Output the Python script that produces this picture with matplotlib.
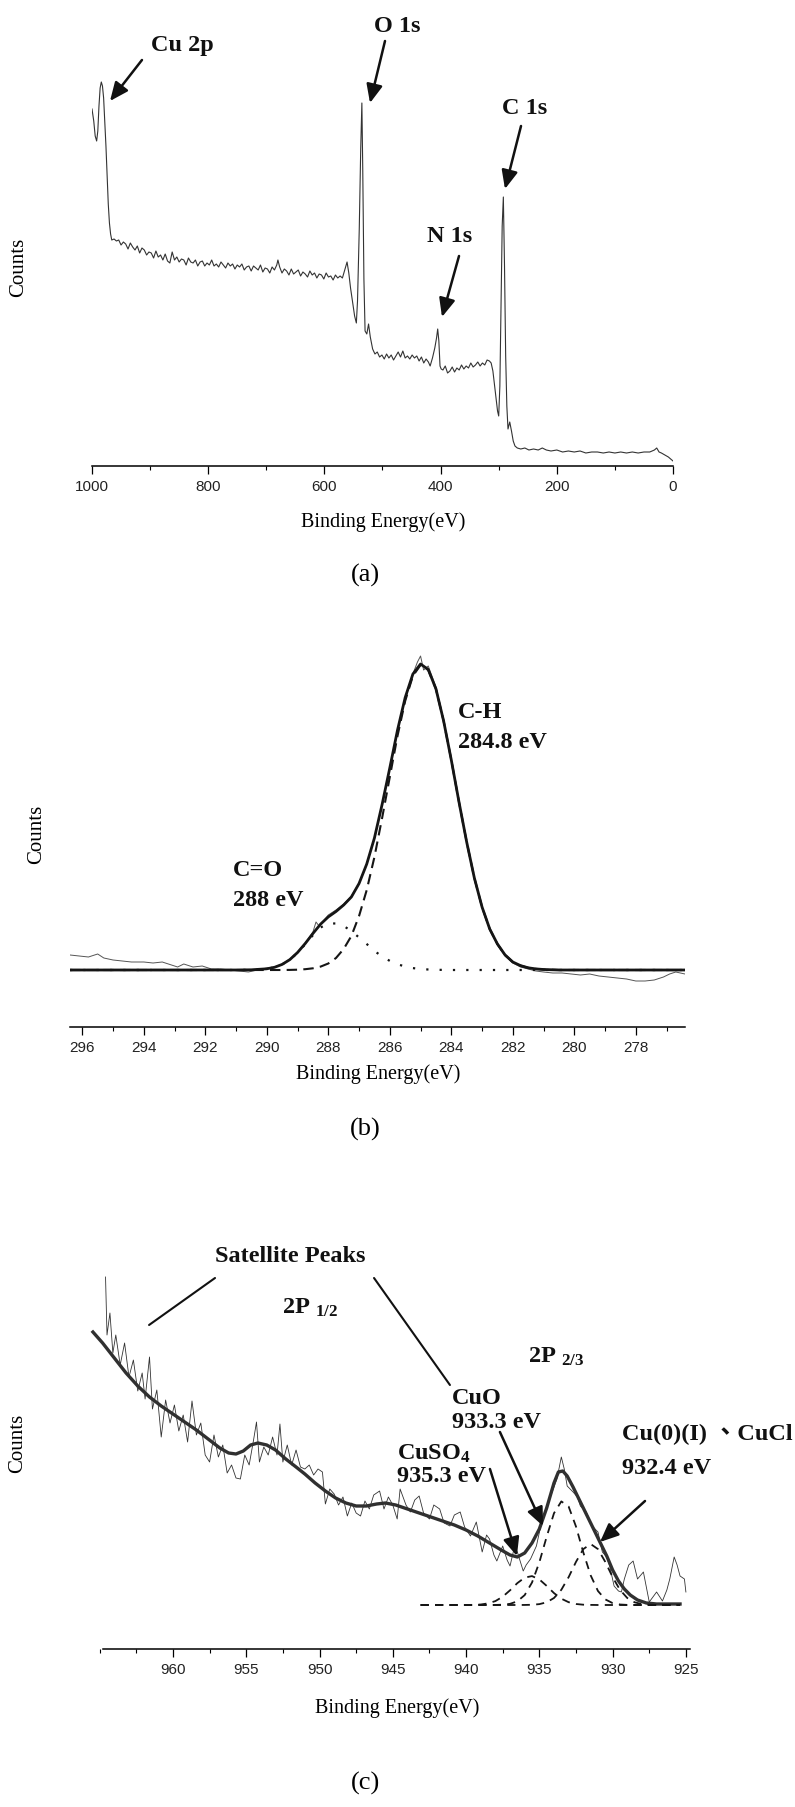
import matplotlib
matplotlib.use('Agg')
import matplotlib.pyplot as plt
from matplotlib.ticker import MultipleLocator

plt.rcParams['font.family'] = ['Liberation Serif', 'Noto Sans CJK TC', 'DejaVu Sans']
plt.rcParams['mathtext.fontset'] = 'custom'
plt.rcParams['mathtext.rm'] = 'Liberation Serif:bold'
plt.rcParams['mathtext.it'] = 'Liberation Serif:bold:italic'
plt.rcParams['mathtext.bf'] = 'Liberation Serif:bold'

# ---------------- (a) survey spectrum ----------------
survey_be = [1000, 997, 994.5, 992, 990, 988, 986, 984, 982, 980, 978.5, 976, 974, 972, 970, 968, 966,
             962, 958, 954, 950, 946, 942, 938, 934, 930, 926,
             922, 918, 914, 910, 906, 902, 898, 894, 890, 886,
             882, 878, 874, 870, 866, 862, 858, 854, 850, 846,
             842, 838, 834, 830, 826, 822, 818, 814, 810, 806,
             802, 798, 794, 790, 786, 782, 778, 774, 770, 766,
             762, 758, 754, 750, 746, 742, 738, 734, 730, 726,
             722, 718, 714, 710, 706, 702, 698, 694, 690, 686,
             682, 680, 677,
             673, 669, 665, 661, 657, 653, 649, 645, 641, 637,
             633, 629, 625, 621, 617, 613, 609, 605, 601, 597,
             593, 589, 585, 581, 577, 573, 569,
             565, 561, 558, 555, 551, 548, 545, 543, 540, 537.5, 535.5, 534, 532, 530, 527, 524, 521, 517,
             513, 509, 505, 501, 497, 493, 489, 485, 481, 477, 473,
             469, 465, 461, 457, 453, 449, 445, 441, 437, 433, 429,
             425, 421, 418, 414, 410, 407, 405, 403, 401, 399, 396,
             392, 388, 384, 380, 376, 372, 368, 364, 360, 356,
             352, 348, 344, 340, 336, 332, 328, 324, 320, 316,
             313, 310, 306, 302, 300, 298, 296, 294, 292, 290, 288, 286, 284,
             281, 278, 275, 272, 268, 262, 255, 248, 240, 232, 225, 218, 210,
             200, 190, 180, 170, 160, 150, 140, 130, 120, 110, 100, 90, 80, 70, 60, 50, 40,
             32, 28, 24, 20, 14, 8, 4, 0]
survey_counts = [357, 345, 330, 325, 335, 360, 378, 384, 380, 368, 350, 320, 290, 262, 243, 232, 226,
                 227, 225, 226, 221, 224, 222, 217, 223, 219, 216,
                 220, 213, 218, 216, 211, 214, 213, 208, 215, 209,
                 211, 206, 212, 205, 203, 214, 206, 209, 204, 207,
                 206, 201, 208, 204, 203, 206, 200, 204, 205, 200,
                 203, 201, 206, 200, 202, 199, 204, 201, 198, 203,
                 200, 202, 197, 201, 199, 202, 196, 199, 200, 195,
                 200, 198, 196, 201, 194, 198, 197, 193, 199, 196,
                 201, 206, 199,
                 193, 197, 195, 191, 197, 192, 194, 196, 190, 194,
                 192, 189, 195, 191, 193, 188, 192, 191, 187, 193,
                 189, 190, 186, 191, 188, 190, 188,
                 196, 204, 193, 178, 162, 150, 143, 165, 237, 317, 363, 297, 187, 135, 132, 142, 129, 117,
                 112, 114, 109, 111, 107, 112, 108, 111, 106, 110, 114,
                 109, 115, 108, 110, 107, 111, 108, 110, 105, 109, 103,
                 107, 104, 100, 108, 118, 128, 137, 125, 100, 97, 96,
                 100, 93, 95, 99, 94, 98, 96, 101, 97, 100,
                 98, 103, 99, 101, 104, 100, 103, 101, 106, 105,
                 103, 95, 75, 55, 50, 80, 160, 240, 269, 200, 110, 60, 37,
                 44, 35, 25, 20, 18, 17, 18, 16, 17, 16, 18, 16, 15,
                 16, 14, 15, 14, 15, 13, 14, 14, 13, 14, 13, 14, 13, 14, 13, 14, 14,
                 16, 18, 14, 13, 11, 9, 7, 5]
survey_ticks = [1000, 800, 600, 400, 200, 0]
survey_ticklabels = ['1000', '800', '600', '400', '200', '0']

# ---------------- (b) C 1s ----------------
c1s_be = [296.4, 295.0, 294.0, 293.0, 292.0, 291.0, 290.5, 290.0,
          289.75, 289.5, 289.25, 289.0, 288.75, 288.5, 288.25, 288.0,
          287.75, 287.5, 287.25, 287.0, 286.75, 286.5, 286.25, 286.0,
          285.75, 285.5, 285.25, 285.0, 284.75, 284.5, 284.25, 284.0,
          283.75, 283.5, 283.25, 283.0, 282.75, 282.5, 282.25, 282.0,
          281.75, 281.5, 281.25, 281.0, 280.5, 280.0, 279.0, 278.0, 277.0, 276.4]
c1s_ch = [0, 0, 0, 0, 0, 0, 0, 0,
          0, 0, 0.1, 0.3, 0.8, 1.7, 3.4, 6.5,
          12, 21, 34, 54, 80, 113, 152, 193,
          234, 269, 294, 305, 300, 281, 249, 210,
          168, 128, 92, 63, 41, 26, 15, 8,
          4.4, 2.2, 1.1, 0.5, 0, 0, 0, 0, 0, 0]
c1s_co = [0, 0, 0, 0, 0, 0, 0.2, 1.2,
          2.7, 5.6, 10.3, 17.2, 25.7, 34.8, 42.5, 46.6,
          46.5, 44, 39, 32.5, 26, 19, 13.6, 9.1,
          5.8, 3.4, 1.9, 1.0, 0.5, 0.2, 0.1, 0,
          0, 0, 0, 0, 0, 0, 0, 0,
          0, 0, 0, 0, 0, 0, 0, 0, 0, 0]
c1s_fit = [0, 0, 0, 0, 0, 0, 0.2, 1.2,
           2.7, 5.6, 10.4, 17.5, 26.5, 36.5, 45.9, 53.1,
           58.5, 65, 73, 86.5, 106, 132, 165.6, 202.1,
           239.8, 272.4, 295.9, 306, 300.5, 281.2, 249.1, 210,
           168, 128, 92, 63, 41, 26, 15, 8,
           4.4, 2.2, 1.1, 0.5, 0, 0, 0, 0, 0, 0]
c1s_raw_be = [296.4, 296.1, 295.8, 295.5, 295.3, 295.0, 294.7, 294.4, 294.0, 293.7, 293.4, 293.1,
              292.9, 292.7, 292.4, 292.1, 291.8, 291.5, 291.2, 290.9, 290.6, 290.3, 290.0, 289.75,
              289.5, 289.25, 289.0, 288.75, 288.5, 288.4, 288.3, 288.0, 287.75, 287.5, 287.25, 287.0,
              286.75, 286.5, 286.25, 286.0, 285.75, 285.5, 285.25, 285.1, 285.0, 284.9, 284.75, 284.5,
              284.25, 284.0, 283.75, 283.5, 283.25, 283.0, 282.75, 282.5, 282.25, 282.0, 281.75, 281.5,
              281.25, 281.0, 280.7, 280.4, 280.1, 279.8, 279.5, 279.2, 278.9, 278.6, 278.3, 278.0,
              277.7, 277.4, 277.1, 276.9, 276.7, 276.4]
c1s_raw = [15, 14, 13, 16, 12, 10, 9, 8, 8, 7, 8, 5,
           3, 6, 3, 4, 1, 1, 0, -1, -2, 0, 2, 3,
           6, 11, 18, 27, 38, 48, 44, 55, 60, 66, 74, 87,
           106, 131, 165, 201, 238, 271, 296, 308, 314, 300, 304, 283,
           250, 211, 169, 128, 91, 62, 40, 25, 14, 7, 3, 1,
           -1, -2, -3, -3, -4, -5, -4, -6, -7, -8, -9, -11,
           -11, -10, -7, -4, -2, -4]
c1s_ticks = [296, 294, 292, 290, 288, 286, 284, 282, 280, 278]
c1s_ticklabels = ['296', '294', '292', '290', '288', '286', '284', '282', '280', '278']

# ---------------- (c) Cu 2p ----------------
cu_env_be = [965.46, 964.8, 964.0, 963.2, 962.4, 961.6, 960.8, 960.0, 959.2, 958.4, 957.6, 956.8,
             956.2, 955.7, 955.2, 954.7, 954.2, 953.6, 953.0, 952.3, 951.6, 951.0, 950.3, 949.6,
             948.9, 948.2, 947.5, 946.8, 946.1, 945.5, 944.8, 944.0, 943.2, 942.4, 941.6, 940.8,
             940.0, 939.2, 938.4, 937.6, 937.0, 936.5, 936.0, 935.5, 935.0, 934.5, 934.0, 933.7,
             933.4, 933.1, 932.7, 932.2, 931.8, 931.4, 930.9, 930.4, 930.0, 929.6, 929.2, 928.8,
             928.3, 927.7, 927.0, 926.2, 925.4]
cu_env = [273, 262, 247, 232, 219, 208, 199, 191, 183, 175, 166, 157,
          152, 151, 154, 160, 162, 160, 155, 146, 138, 131, 122, 114,
          107, 102, 99, 99, 101, 102, 100, 96, 92, 88, 84, 80,
          75, 69, 62, 55, 50, 48, 52, 62, 76, 97, 122, 133,
          134, 129, 118, 103, 91, 79, 64, 49, 35, 24, 16, 10,
          5, 2, 1, 1, 1]
cu_raw_be = [964.6, 964.5, 964.3, 964.1, 963.9, 963.6, 963.3, 963.0, 962.7, 962.4, 962.1, 961.9,
             961.6, 961.4, 961.1, 960.8, 960.5, 960.2, 959.9, 959.6, 959.3, 959.0, 958.7, 958.4,
             958.1, 957.8, 957.5, 957.2, 956.9, 956.6, 956.3, 956.0, 955.7, 955.4, 955.1, 954.8,
             954.5, 954.3, 954.1, 953.8, 953.5, 953.2, 952.9, 952.7, 952.5, 952.2, 951.9, 951.6,
             951.3, 951.0, 950.7, 950.4, 950.1, 949.8, 949.6, 949.3, 949.0, 948.7, 948.4, 948.1,
             947.8, 947.5, 947.2, 946.9, 946.6, 946.3, 945.9, 945.6, 945.3, 945.0, 944.7, 944.5,
             944.1, 943.8, 943.5, 943.2, 942.9, 942.5, 942.2, 941.8, 941.5, 941.1, 940.8, 940.4,
             940.1, 939.7, 939.3, 938.9, 938.6, 938.4, 938.1, 937.9, 937.5, 937.2, 937.0, 936.7,
             936.5, 936.1, 935.9, 935.6, 935.2, 934.8, 934.3, 933.8, 933.5, 933.3, 933.1, 932.7,
             932.4, 932.2, 931.8, 931.4, 931.0, 930.7, 930.4, 930.2, 929.9, 929.6, 929.4, 929.2,
             928.9, 928.6, 928.3, 927.9, 927.5, 927.2, 927.0, 926.6, 926.3, 926.1, 925.8, 925.6,
             925.4, 925.1, 925.0]
cu_raw = [328, 270, 292, 252, 270, 240, 262, 228, 245, 214, 232, 206,
          248, 196, 215, 168, 205, 182, 200, 174, 190, 163, 204, 170,
          182, 150, 143, 170, 148, 160, 132, 140, 127, 126, 150, 140,
          165, 183, 143, 158, 150, 168, 150, 181, 143, 160, 140, 155,
          138, 136, 140, 130, 136, 133, 101, 116, 111, 100, 108, 89,
          102, 92, 89, 104, 96, 110, 114, 96, 108, 100, 86, 116,
          100, 93, 105, 109, 92, 86, 100, 96, 82, 79, 90, 93,
          78, 69, 83, 53, 70, 66, 50, 44, 59, 45, 39, 58,
          53, 34, 40, 46, 59, 86, 106, 126, 148, 136, 119, 113,
          108, 99, 93, 79, 73, 53, 48, 39, 19, 14, 13, 26,
          40, 44, 26, 33, 3, 9, 13, 4, 15, 26, 48, 40,
          29, 26, 13]
cu_fit_be = [943.1, 942.0, 941.0, 940.0, 939.5, 939.0, 938.5, 938.0, 937.5, 937.0, 936.5, 936.0,
             935.5, 935.0, 934.5, 934.0, 933.5, 933.0, 932.5, 932.0, 931.5, 931.0, 930.5, 930.0,
             929.5, 929.0, 928.5, 928.0, 927.5, 927.0, 926.0, 925.4]
cu_cuso4 = [0, 0, 0, 0.03, 0.15, 0.5, 1.6, 3.9, 8.3, 14.7, 21.9, 27.4,
            28.9, 25.6, 19.1, 11.9, 6.3, 2.8, 1.0, 0.3, 0.1, 0, 0, 0,
            0, 0, 0, 0, 0, 0, 0, 0]
cu_cuo = [0, 0, 0, 0, 0, 0, 0, 0.07, 0.3, 1.15, 3.7, 9.9,
          22.5, 42.7, 68.3, 91.8, 103.6, 98.4, 78.5, 52.6, 29.7, 14.0, 5.6, 1.9,
          0.5, 0.1, 0, 0, 0, 0, 0, 0]
cu_cu0 = [0, 0, 0, 0, 0, 0, 0, 0, 0, 0, 0, 0.05,
          0.24, 0.87, 2.7, 7.0, 15.2, 27.9, 43.1, 55.9, 61, 55.9, 43.1, 27.9,
          15.2, 7.0, 2.7, 0.87, 0.24, 0.05, 0, 0]
cu_ticks = [960, 955, 950, 945, 940, 935, 930, 925]
cu_ticklabels = ['960', '955', '950', '945', '940', '935', '930', '925']

W, H = 795, 1808
fig = plt.figure(figsize=(W / 100, H / 100), dpi=100)


def make_axes(left, top, right, bottom):
    return fig.add_axes([left / W, 1 - bottom / H, (right - left) / W, (bottom - top) / H])


def style_axis(ax, ticks, labels, minor):
    for s in ['left', 'top', 'right']:
        ax.spines[s].set_visible(False)
    ax.spines['bottom'].set_linewidth(1.1)
    ax.set_yticks([])
    ax.set_xticks(ticks, labels, fontfamily='Liberation Sans', fontsize=11, color='#222222')
    ax.xaxis.set_minor_locator(MultipleLocator(minor))
    ax.tick_params(axis='x', which='major', length=5.5, width=0.9, pad=4)
    ax.tick_params(axis='x', which='minor', length=3, width=0.8)
    ax.patch.set_alpha(0)


def labels(ax, xl_pos, yl_pos):
    ax.set_xlabel('Binding Energy(eV)', fontsize=14.5, va='center', ha='center')
    ax.xaxis.set_label_coords(*xl_pos)
    ax.set_ylabel('Counts', fontsize=15, va='center', ha='center')
    ax.yaxis.set_label_coords(*yl_pos)


ARROW = dict(arrowstyle='-|>,head_length=0.8,head_width=0.35', mutation_scale=14,
             lw=1.8, color='#111111', shrinkA=0, shrinkB=0)
LINE = dict(arrowstyle='-', lw=1.5, color='#111111', shrinkA=0, shrinkB=0)
BOLD = dict(fontsize=17.5, fontweight='bold', color='#111111')

# ---- panel (a)
ax1 = make_axes(92, 80, 673, 467)
ax1.plot(survey_be, survey_counts, color='#333333', lw=0.8)
ax1.set_xlim(1000, 0)
ax1.set_ylim(0, 387)
style_axis(ax1, survey_ticks, survey_ticklabels, 100)
labels(ax1, (0.501, -0.142), (-0.127, 0.517))

ax1.text(845, 422, 'Cu 2p', ha='center', va='center', **BOLD)
ax1.annotate('', xy=(969, 365), xytext=(914, 406), arrowprops=ARROW, annotation_clip=False)
ax1.text(474, 440, 'O 1s', ha='center', va='center', **BOLD)
ax1.annotate('', xy=(521.5, 363), xytext=(495.7, 425), arrowprops=ARROW, annotation_clip=False)
ax1.text(255.6, 359, 'C 1s', ha='center', va='center', **BOLD)
ax1.annotate('', xy=(289.2, 277), xytext=(261.6, 340), arrowprops=ARROW, annotation_clip=False)
ax1.text(384.7, 230, 'N 1s', ha='center', va='center', **BOLD)
ax1.annotate('', xy=(397.6, 149), xytext=(368.3, 210), arrowprops=ARROW, annotation_clip=False)

# ---- panel (b)
ax2 = make_axes(70, 650, 685, 1028)
ax2.plot(c1s_raw_be, c1s_raw, color='#555555', lw=0.7)
ax2.plot(c1s_be, c1s_fit, color='#151515', lw=2.0)
ax2.plot(c1s_be, c1s_ch, color='#151515', lw=1.5, ls=(0, (5, 3)))
ax2.plot(c1s_be, c1s_co, color='#151515', lw=1.6, ls=(0, (1, 5)))
ax2.set_xlim(296.4, 276.4)
ax2.set_ylim(-57, 321)
style_axis(ax2, c1s_ticks, c1s_ticklabels, 1)
labels(ax2, (0.501, -0.122), (-0.055, 0.511))

ax2.text(283.78, 258, 'C-H', ha='left', va='center', **BOLD)
ax2.text(283.78, 228, '284.8 eV', ha='left', va='center', **BOLD)
ax2.text(291.10, 101, 'C=O', ha='left', va='center', **BOLD)
ax2.text(291.10, 71, '288 eV', ha='left', va='center', **BOLD)

# ---- panel (c)
ax3 = make_axes(90, 1270, 690, 1650)
ax3.plot(cu_raw_be, cu_raw, color='#333333', lw=0.6)
ax3.plot(cu_env_be, cu_env, color='#303030', lw=2.4)
for comp in (cu_cuso4, cu_cuo, cu_cu0):
    ax3.plot(cu_fit_be, comp, color='#151515', lw=1.3, ls=(0, (4.5, 3.5)))
ax3.set_xlim(965.66, 924.72)
ax3.set_ylim(-44, 336)
style_axis(ax3, cu_ticks, cu_ticklabels, 2.5)
ax3.spines['bottom'].set_bounds(964.8, 924.75)
labels(ax3, (0.512, -0.153), (-0.12, 0.545))

ax3.text(952.0, 349, 'Satellite Peaks', ha='center', va='center', **BOLD)
ax3.annotate('', xy=(961.63, 280), xytext=(957.13, 327), arrowprops=LINE)
ax3.annotate('', xy=(941.10, 220), xytext=(946.28, 327), arrowprops=LINE)
ax3.text(952.56, 292, r'2P $_{1/2}$', ha='left', va='baseline', **BOLD)
ax3.text(935.78, 243, r'2P $_{2/3}$', ha='left', va='baseline', **BOLD)
ax3.text(940.96, 208, 'CuO', ha='left', va='center', **BOLD)
ax3.text(940.96, 184, '933.3 eV', ha='left', va='center', **BOLD)
ax3.text(944.71, 146, r'CuSO$_4$', ha='left', va='baseline', **BOLD)
ax3.text(944.71, 130, '935.3 eV', ha='left', va='center', **BOLD)
ax3.text(929.36, 172, 'Cu(0)(I) 、CuCl', ha='left', va='center', **BOLD)
ax3.text(929.36, 138, '932.4 eV', ha='left', va='center', **BOLD)
ax3.annotate('', xy=(936.53, 49), xytext=(938.37, 136), arrowprops=ARROW, annotation_clip=False)
ax3.annotate('', xy=(934.75, 79), xytext=(937.69, 173), arrowprops=ARROW, annotation_clip=False)
ax3.annotate('', xy=(930.86, 63), xytext=(927.79, 104), arrowprops=ARROW, annotation_clip=False)

# panel letters
for letter, ypx in (('(a)', 575), ('(b)', 1129), ('(c)', 1783)):
    fig.text(365 / W, 1 - ypx / H, letter, fontsize=19, ha='center', va='center')

fig.savefig('out.png', dpi=100)
